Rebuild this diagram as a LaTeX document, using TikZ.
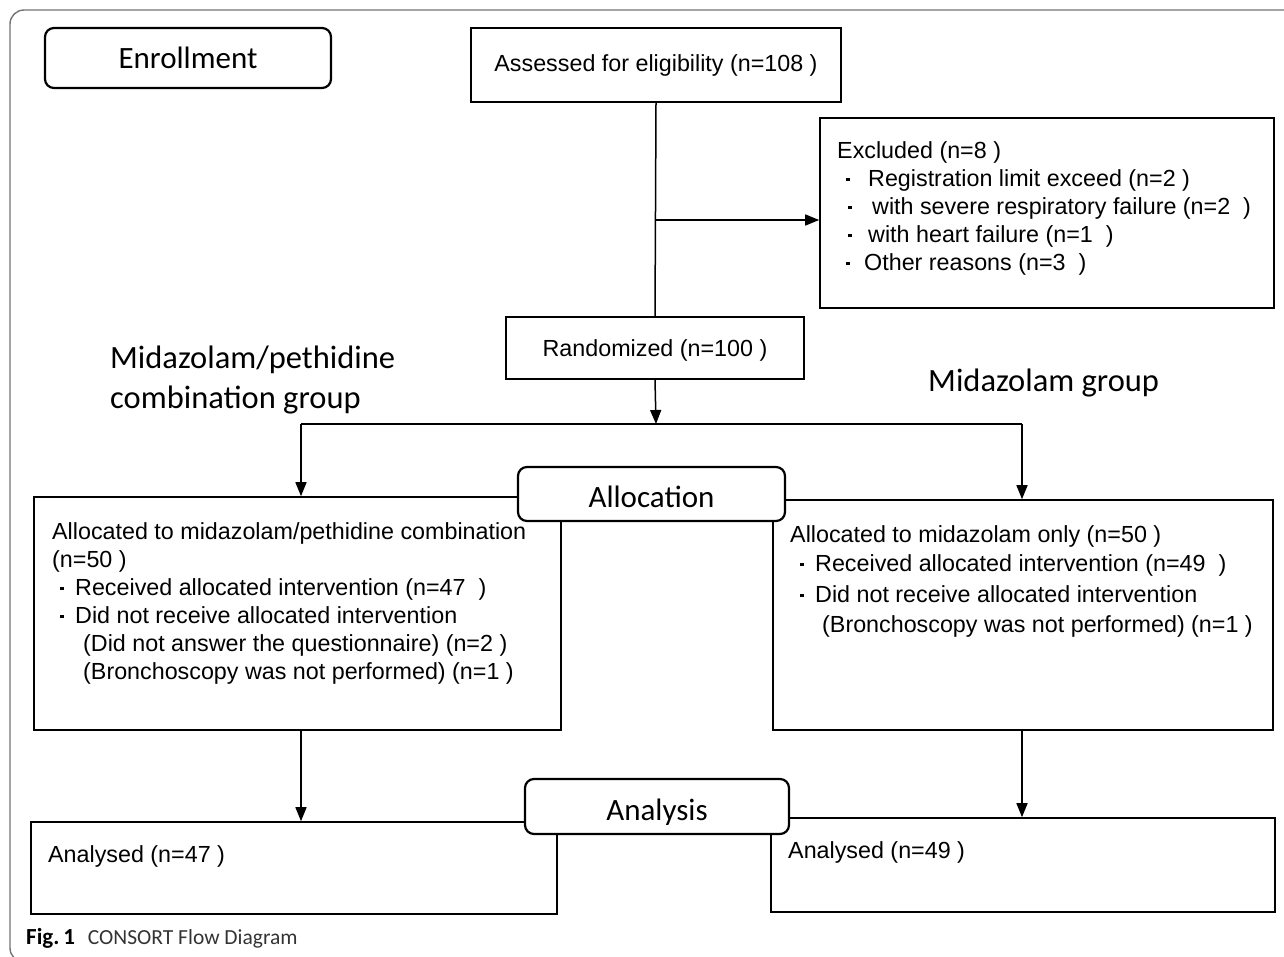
\documentclass[tikz,border=0pt]{standalone}
\usepackage{fontspec}
\setmainfont{Liberation Sans}
\newfontfamily\calfont{Carlito}
\usetikzlibrary{arrows.meta}
\newcommand\bul{\rule[5pt]{3.5pt}{3.5pt}}
\begin{document}
\begin{tikzpicture}[x=1pt,y=-1pt,
 box/.style={draw=black, line width=1.6pt, rectangle, inner sep=0pt, fill=white, font=\fontsize{23.3pt}{28pt}\selectfont},
 hdr/.style={draw=black, line width=2.2pt, rounded corners=9pt, fill=white, inner sep=0pt, text depth=0pt, font=\calfont\fontsize{31pt}{36pt}\selectfont},
 txt/.style={anchor=base west, inner sep=0pt, font=\fontsize{23.3pt}{28pt}\selectfont},
 grp/.style={anchor=base west, inner sep=0pt, font=\calfont\fontsize{32.5pt}{40pt}\selectfont},
 conn/.style={draw=black, line width=1.5pt},
 arr/.style={conn, -{Triangle[length=14pt,width=11pt]}},
 frame/.style={draw=black!55, line width=1.4pt, rounded corners=14pt}]
\useasboundingbox (0,0) rectangle (1284,956);
\begin{scope}
\clip (0,0) rectangle (1284,956);
\draw[frame] (10,10) rectangle (1320,962);
\end{scope}

% boxes
\node[box, minimum width=370pt, minimum height=74pt] (assess) at (656,65) {Assessed for eligibility (n=108 )};
\node[box, minimum width=454pt, minimum height=190pt] (excl) at (1047,213) {};
\node[box, minimum width=298pt, minimum height=62pt, text depth=0pt] (rand) at (655,348) {Randomized (n=100 )};
\node[box, minimum width=527pt, minimum height=233pt] (alloc1) at (297.5,613.5) {};
\node[box, minimum width=500pt, minimum height=230pt] (alloc2) at (1023,615) {};
\node[box, minimum width=526pt, minimum height=92pt] (ana1) at (294,868) {};
\node[box, minimum width=504pt, minimum height=94pt] (ana2) at (1023,865) {};

% header boxes
\node[hdr, minimum width=286pt, minimum height=60pt, text height=20pt] (enroll) at (188,58) {Enrollment};
\node[hdr, minimum width=267pt, minimum height=54pt, text height=26pt] (allochdr) at (651.5,494) {Allocation};
\node[hdr, minimum width=264pt, minimum height=55pt, text height=27pt] (anahdr) at (657,806.5) {Analysis};

% excluded text
\node[txt] (e1) at (837,158) {Excluded (n=8 )};
\node[txt] (e2) at (846,186) {\bul\hspace{18.5pt}Registration limit exceed (n=2 )};
\node[txt] (e3) at (848,214) {\bul\hspace{20.5pt}with severe respiratory failure (n=2\ \ )};
\node[txt] (e4) at (848,242) {\bul\hspace{16.5pt}with heart failure (n=1\ \ )};
\node[txt] (e5) at (846,270) {\bul\hspace{14.5pt}Other reasons (n=3\ \ )};

% left allocation text
\node[txt] (l1) at (52,539) {Allocated to midazolam/pethidine combination};
\node[txt] (l2) at (52,567) {(n=50 )};
\node[txt] (l3) at (60,595) {\bul\hspace{11.5pt}Received allocated intervention (n=47\ \ )};
\node[txt] (l4) at (60,623) {\bul\hspace{11.5pt}Did not receive allocated intervention};
\node[txt] (l5) at (83,651) {(Did not answer the questionnaire) (n=2 )};
\node[txt] (l6) at (83,679) {(Bronchoscopy was not performed) (n=1 )};

% right allocation text
\node[txt] (r1) at (790,542) {Allocated to midazolam only (n=50 )};
\node[txt] (r2) at (800,571) {\bul\hspace{11.5pt}Received allocated intervention (n=49\ \ )};
\node[txt] (r3) at (800,602) {\bul\hspace{11.5pt}Did not receive allocated intervention};
\node[txt] (r4) at (822,632) {(Bronchoscopy was not performed) (n=1 )};

% analysed text
\node[txt] (a1) at (48,862) {Analysed (n=47 )};
\node[txt] (a2) at (788,858) {Analysed (n=49 )};

% group labels
\node[grp] (g1) at (110,368) {Midazolam/pethidine};
\node[grp] (g2) at (110,408) {combination group};
\node[grp] (g3) at (928,391) {Midazolam group};

% connectors
\coordinate (exc0) at (656,220);
\coordinate (split) at (656,424);
\coordinate (splitL) at (301,424);
\coordinate (splitR) at (1022,424);
\draw[conn] (assess.south) -- (rand.north);
\draw[arr] (exc0) -- (exc0 -| excl.west);
\draw[arr] (rand.south) -- (split);
\draw[conn] (splitL) -- (splitR);
\draw[arr] (splitL) -- (splitL |- alloc1.north);
\draw[arr] (splitR) -- (splitR |- alloc2.north);
\draw[arr] (alloc1.south -| splitL) -- (ana1.north -| splitL);
\draw[arr] (alloc2.south -| splitR) -- (ana2.north -| splitR);

% caption
\node[anchor=base west, inner sep=0pt, font=\calfont\fontsize{21.5pt}{24pt}\selectfont] (cap) at (26,944) {{\fontsize{23pt}{24pt}\selectfont\textbf{Fig.\,1}}\hspace{13pt}\textcolor{black!80}{CONSORT Flow Diagram}};
\end{tikzpicture}
\end{document}
